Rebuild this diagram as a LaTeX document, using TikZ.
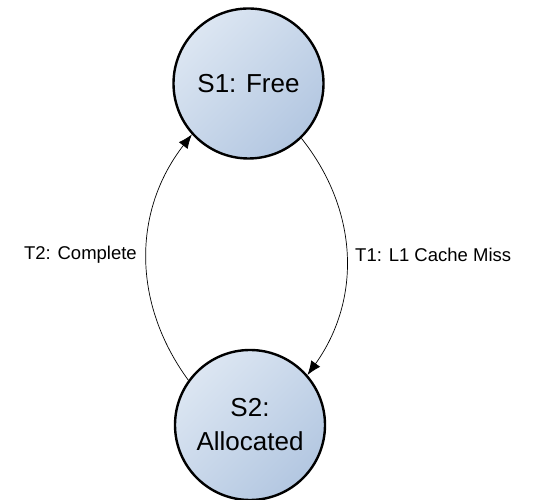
\documentclass[tikz,border=0pt]{standalone}
\usepackage{fontspec}
\setmainfont{Liberation Sans}
\usetikzlibrary{arrows.meta}
\definecolor{fillA}{HTML}{DCE6F2}
\definecolor{fillB}{HTML}{B3C7E1}
\tikzset{
  state/.style={circle, draw=black, line width=2.4pt, minimum size=150pt, inner sep=0pt,
    left color=fillA, right color=fillB, shading angle=45, align=center,
    font=\fontsize{26}{34}\selectfont},
  trans/.style={draw=black, line width=0.7pt, -{Latex[length=14pt,width=11pt]}},
  tlabel/.style={font=\fontsize{18.5}{22}\selectfont, inner sep=0pt}
}
\begin{document}
\begin{tikzpicture}[x=1pt,y=1pt]
\useasboundingbox (0,0) rectangle (533,500);
\node[state] (s1) at (248.5,416.5) {S1: Free};
\node[state] (s2) at (250,75) {S2:\\Allocated};
\draw[trans] (s2.144) to[bend left=37] (s1.222);
\draw[trans] (s1.-46) to[bend left=37] (s2.41);
\node[tlabel, anchor=east] (l2) at (137,245) {T2: Complete};
\node[tlabel, anchor=west] (l1) at (355,245) {T1: L1 Cache Miss};
\end{tikzpicture}
\end{document}
